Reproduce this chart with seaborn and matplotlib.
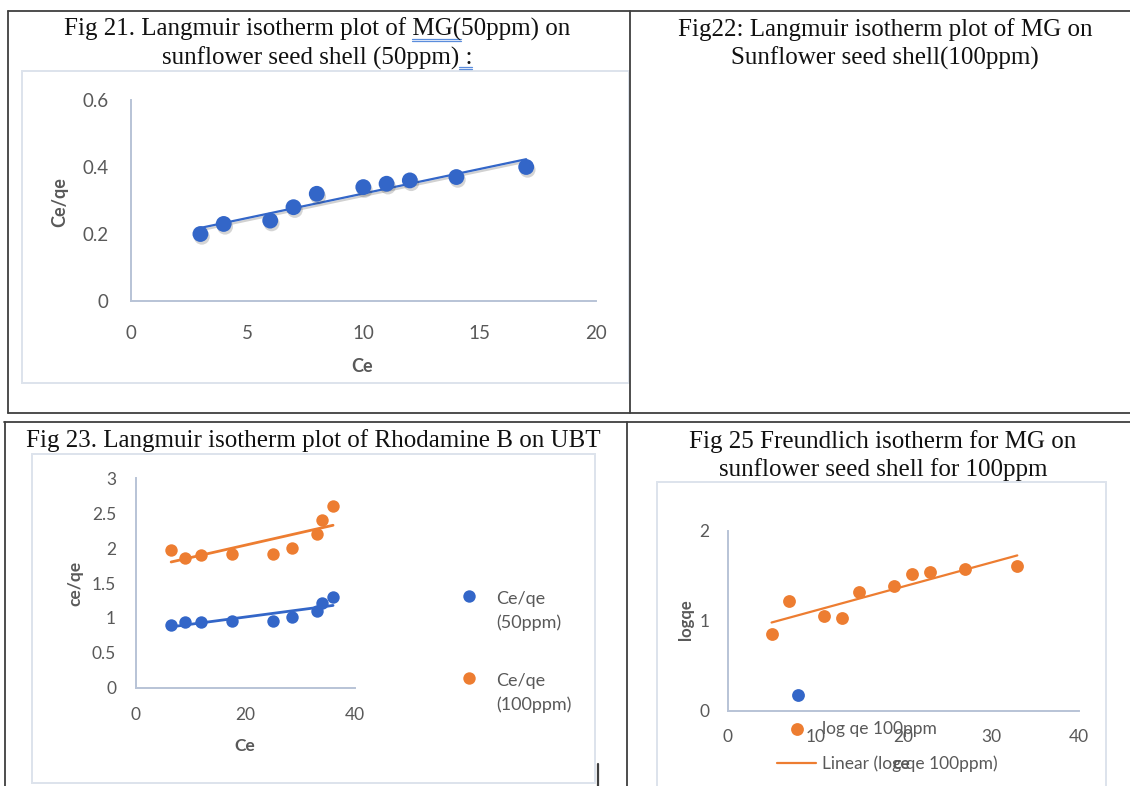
import numpy as np
import pandas as pd
import matplotlib
matplotlib.use("Agg")
import matplotlib.pyplot as plt
import matplotlib.patheffects as pe
from matplotlib.patches import Rectangle
from matplotlib.lines import Line2D
import seaborn as sns

# ---------------- data ----------------
# Fig 21: Langmuir MG (50ppm) on sunflower seed shell
fig21_ce = [3, 4, 6, 7, 8, 10, 11, 12, 14, 17]
fig21_ce_qe = [0.20, 0.23, 0.24, 0.28, 0.32, 0.34, 0.35, 0.36, 0.37, 0.40]

# Fig 23: Langmuir Rhodamine B on UBT
fig23_ce = [6.5, 9, 12, 17.5, 25, 28.5, 33, 34, 36]
fig23_ce_qe_50 = [0.90, 0.94, 0.945, 0.96, 0.96, 1.01, 1.10, 1.22, 1.30]
fig23_ce_qe_100 = [1.97, 1.86, 1.90, 1.91, 1.92, 2.00, 2.20, 2.40, 2.60]
fig23_labels = ["Ce/qe\n(50ppm)", "Ce/qe\n(100ppm)"]

# Fig 25: Freundlich MG 100ppm
fig25_ce = [5, 7, 11, 13, 15, 19, 21, 23, 27, 33]
fig25_logqe = [0.85, 1.22, 1.05, 1.03, 1.315, 1.39, 1.52, 1.54, 1.575, 1.61]
fig25_extra_ce = [8]
fig25_extra_logqe = [0.18]
fig25_labels = ["log qe 100ppm", "Linear (log qe 100ppm)"]

titles = {
    "fig21": ["Fig 21. Langmuir isotherm plot of MG(50ppm) on", "sunflower seed shell (50ppm) :"],
    "fig22": ["Fig22: Langmuir isotherm plot of MG on", "Sunflower seed shell(100ppm)"],
    "fig23": ["Fig 23. Langmuir isotherm plot of Rhodamine B on UBT"],
    "fig25": ["Fig 25 Freundlich isotherm for MG on", "sunflower seed shell for 100ppm"],
}

# ---------------- style ----------------
BLUE = "#3366C8"
ORANGE = "#ED7D31"
TICK = "#595959"
AXLINE = "#B8C3D6"
FRAME = "#DDE3EC"
BORDER = "#3F3F3F"
SERIF = ["Liberation Serif", "DejaVu Serif"]

W, H = 1130, 786
sns.set_style("white")
plt.rcParams["font.family"] = ["Lato", "DejaVu Sans"]

fig = plt.figure(figsize=(W / 100, H / 100), dpi=100)
fig.patch.set_facecolor("white")


def fx(x):
    return x / W


def fy(y):
    return 1 - y / H


def hline(x0, x1, y, color=BORDER, lw=1.3, z=1):
    fig.add_artist(Line2D([fx(x0), fx(x1)], [fy(y), fy(y)], transform=fig.transFigure,
                          color=color, lw=lw, zorder=z))


def vline(x, y0, y1, color=BORDER, lw=1.3, z=1):
    fig.add_artist(Line2D([fx(x), fx(x)], [fy(y0), fy(y1)], transform=fig.transFigure,
                          color=color, lw=lw, zorder=z))


def frame(x0, x1, y0, y1):
    fig.add_artist(Rectangle((fx(x0), fy(y1)), (x1 - x0) / W, (y1 - y0) / H,
                             transform=fig.transFigure, fill=False,
                             edgecolor=FRAME, lw=1.4, zorder=0))


def add_axes_px(x0, x1, ytop, ybot):
    return fig.add_axes([fx(x0), fy(ybot), (x1 - x0) / W, (ybot - ytop) / H])


def style_axes(ax, xlim, ylim, xticks, yticks, xlabels, ylabels, fs, xpad, ypad):
    ax.set_xlim(*xlim)
    ax.set_ylim(*ylim)
    ax.set_xticks(xticks)
    ax.set_xticklabels(xlabels)
    ax.set_yticks(yticks)
    ax.set_yticklabels(ylabels)
    for s in ["top", "right"]:
        ax.spines[s].set_visible(False)
    for s in ["left", "bottom"]:
        ax.spines[s].set_color(AXLINE)
        ax.spines[s].set_linewidth(1.4)
    ax.tick_params(axis="both", length=0, labelsize=fs, labelcolor=TICK)
    ax.tick_params(axis="x", pad=xpad)
    ax.tick_params(axis="y", pad=ypad)
    ax.set_xlabel("")
    ax.set_ylabel("")
    ax.patch.set_alpha(0)
    ax.grid(False)


# ---------------- table borders ----------------
hline(8, 1130, 10.7)
vline(8, 10.7, 413)
vline(630, 10.7, 413)
hline(8, 1130, 413)
hline(4, 1130, 422.5)
vline(4.5, 422.5, 786)
vline(626.7, 422.5, 786)
vline(597.7, 764, 786, lw=1.6)

# ---------------- titles ----------------
TFS = 18
renderer = fig.canvas.get_renderer()


def twidth(s):
    t = fig.text(0, 0, s, fontsize=TFS, family=SERIF)
    w = t.get_window_extent(renderer).width
    t.remove()
    return w


def title_lines(lines, cx, baselines):
    for s, b in zip(lines, baselines):
        fig.text(fx(cx), fy(b), s, fontsize=TFS, family=SERIF, color="#111111",
                 ha="center", va="baseline")


title_lines(titles["fig21"], 317, [36, 65])
title_lines(titles["fig22"], 885, [36, 65])
title_lines(titles["fig23"], 313, [447])
title_lines(titles["fig25"], 883, [448, 476])


def squiggle(line, sub, cx, base, dys=(2.5, 4.8)):
    full = twidth(line)
    idx = line.index(sub) + len(sub)
    end = cx - full / 2 + twidth(line[:idx])
    start = end - twidth(sub)
    for dy in dys:
        hline(start, end, base + dy, color="#5B8DDC", lw=0.9, z=3)


squiggle(titles["fig21"][0], "MG(", 317, 36)
squiggle(titles["fig21"][1], " :", 317, 65, dys=(1.5, 3.5))

# ---------------- Fig 21 ----------------
frame(22.4, 628.6, 70.7, 382.7)
ax1 = add_axes_px(130.6, 596, 100, 301)
shadow = [pe.SimplePatchShadow(offset=(1.0, -2.0), alpha=0.22, shadow_rgbFace="#444444"), pe.Normal()]
sns.regplot(x=fig21_ce, y=fig21_ce_qe, ax=ax1, ci=None, truncate=True,
            scatter_kws=dict(s=130, color=BLUE, linewidths=0, alpha=1, zorder=3),
            line_kws=dict(color=BLUE, lw=1.6, zorder=2))
for c in ax1.collections:
    c.set_path_effects(shadow)
for ln in ax1.lines:
    ln.set_path_effects([pe.SimpleLineShadow(offset=(1, -1.5), alpha=0.18), pe.Normal()])
style_axes(ax1, (0, 20), (0, 0.6), [0, 5, 10, 15, 20], [0, 0.2, 0.4, 0.6],
           ["0", "5", "10", "15", "20"], ["0", "0.2", "0.4", "0.6"], 13.5, 17, 16)
fig.text(fx(362.4), fy(366), "Ce", fontsize=13, fontweight="bold", color=TICK,
         ha="center", va="center")
fig.text(fx(60), fy(201.7), "Ce/qe", fontsize=13, fontweight="bold", color=TICK,
         ha="center", va="center", rotation=90)

# ---------------- Fig 23 ----------------
frame(32, 595, 454, 783)
ax3 = add_axes_px(135.5, 355, 478.3, 687.7)
sns.scatterplot(x=fig23_ce, y=fig23_ce_qe_50, color=BLUE, s=80, linewidth=0, ax=ax3,
                zorder=3, label=fig23_labels[0])
sns.scatterplot(x=fig23_ce, y=fig23_ce_qe_100, color=ORANGE, s=80, linewidth=0, ax=ax3,
                zorder=3, label=fig23_labels[1])
pts50, pts100 = ax3.collections[0], ax3.collections[1]
sns.regplot(x=fig23_ce, y=fig23_ce_qe_50, ax=ax3, ci=None, truncate=True, scatter=False,
            line_kws=dict(color=BLUE, lw=2.0, zorder=2))
sns.regplot(x=fig23_ce, y=fig23_ce_qe_100, ax=ax3, ci=None, truncate=True, scatter=False,
            line_kws=dict(color=ORANGE, lw=2.0, zorder=2))
style_axes(ax3, (0, 40), (0, 3), [0, 20, 40], [0, 0.5, 1, 1.5, 2, 2.5, 3],
           ["0", "20", "40"], ["0", "0.5", "1", "1.5", "2", "2.5", "3"], 12.5, 14, 14)
leg3 = ax3.legend([pts50, pts100], fig23_labels, loc="upper left",
                  bbox_to_anchor=(fx(460), fy(591)),
                  bbox_transform=fig.transFigure, frameon=False, fontsize=13,
                  labelcolor=TICK, handlelength=1.0, handletextpad=1.0, labelspacing=2.32,
                  borderpad=0, borderaxespad=0, scatteryoffsets=[1.7])
for t in leg3.get_texts():
    t.set_linespacing(1.55)
fig.text(fx(245), fy(745.7), "Ce", fontsize=12.5, fontweight="bold", color=TICK,
         ha="center", va="center")
fig.text(fx(75.5), fy(583), "ce/qe", fontsize=12.5, fontweight="bold", color=TICK,
         ha="center", va="center", rotation=90)

# ---------------- Fig 25 ----------------
frame(656.7, 1106, 482.3, 800)
ax5 = add_axes_px(727.7, 1078.7, 530.7, 710.7)
sns.scatterplot(x=fig25_ce, y=fig25_logqe, color=ORANGE, s=85, linewidth=0, ax=ax5,
                zorder=3)
sns.regplot(x=fig25_ce, y=fig25_logqe, ax=ax5, ci=None, truncate=True, scatter=False,
            line_kws=dict(color=ORANGE, lw=1.6, zorder=2))
sns.scatterplot(x=fig25_extra_ce, y=fig25_extra_logqe, color=BLUE, s=85, linewidth=0,
                ax=ax5, zorder=3, legend=False)
style_axes(ax5, (0, 40), (0, 2), [0, 10, 20, 30, 40], [0, 1, 2],
           ["0", "10", "20", "30", "40"], ["0", "1", "2"], 12.5, 13, 13)
h_pts = ax5.collections[0]
h_line = ax5.lines[0]
ax5.legend([h_pts, h_line], fig25_labels, loc="upper left",
           bbox_to_anchor=(fx(777), fy(721)), bbox_transform=fig.transFigure,
           frameon=False, fontsize=12.5, labelcolor=TICK, handlelength=2.25,
           handletextpad=0.33, labelspacing=1.05, borderpad=0, borderaxespad=0)
fig.text(fx(901), fy(764), "ce", fontsize=12.5, fontweight="bold", color=TICK,
         ha="center", va="center")
fig.text(fx(686), fy(620), "logqe", fontsize=12, fontweight="bold", color=TICK,
         ha="center", va="center", rotation=90)

fig.savefig("out.png", dpi=100, facecolor="white")
